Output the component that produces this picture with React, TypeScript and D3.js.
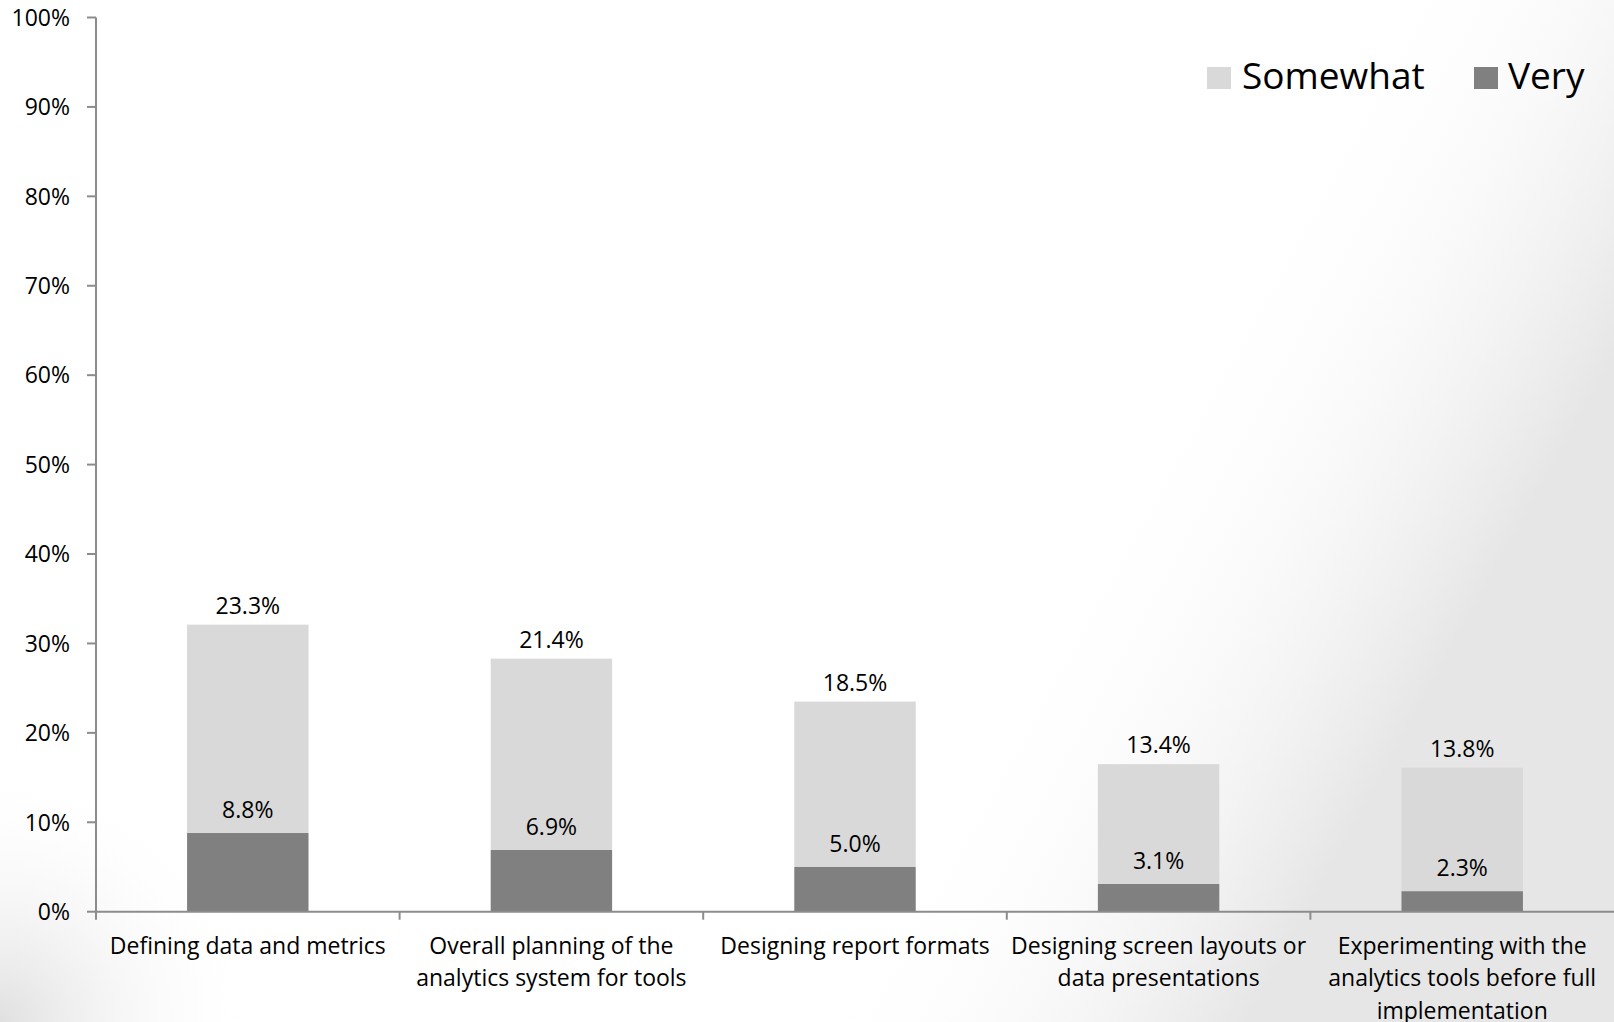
import React from "react";
import * as d3 from "d3";

const categories = [
  "Defining data and metrics",
  "Overall planning of the\nanalytics system for tools",
  "Designing report formats",
  "Designing screen layouts or\ndata presentations",
  "Experimenting with the\nanalytics tools before full\nimplementation",
];
const veryValues = [8.8, 6.9, 5.0, 3.1, 2.3];
const somewhatValues = [23.3, 21.4, 18.5, 13.4, 13.8];
const yTicks = [0, 10, 20, 30, 40, 50, 60, 70, 80, 90, 100];
const seriesNames = ["Somewhat", "Very"];

const W = 1614;
const H = 1022;
const FONT = "'Open Sans', Lato, sans-serif";
const AXIS = "#8c8c8c";
const C_SOME = "#d9d9d9";
const C_VERY = "#808080";
const FS = 23;

export default function App() {
  const x = d3.scaleBand<string>().domain(categories).range([96, 1614]).padding(0);
  const y = d3.scaleLinear().domain([0, 100]).range([911.7, 17.5]);
  const bw = x.bandwidth() * 0.4;
  const rows = categories.map((c, i) => ({
    c,
    very: veryValues[i],
    some: somewhatValues[i],
  }));
  const stack = d3.stack<any>().keys(["very", "some"])(rows as any);

  return (
    <svg
      width={W}
      height={H}
      style={{ position: "absolute", left: 0, top: 0, display: "block" }}
      fontFamily={FONT}
    >
      <defs>
        <linearGradient id="rightShade" x1="0" y1="0" x2="1" y2="0.35">
          <stop offset="0.76" stopColor="#ffffff" stopOpacity="0" />
          <stop offset="1" stopColor="#e6e6e6" stopOpacity="1" />
        </linearGradient>
        <radialGradient id="blShade" cx="0" cy="1" r="0.16" gradientUnits="objectBoundingBox"
          gradientTransform="translate(0,1) scale(1,1.58) translate(0,-1)">
          <stop offset="0" stopColor="#e0e0e0" stopOpacity="1" />
          <stop offset="1" stopColor="#ffffff" stopOpacity="0" />
        </radialGradient>
      </defs>
      <rect x={0} y={0} width={W} height={H} fill="#ffffff" />
      <rect x={0} y={0} width={W} height={H} fill="url(#rightShade)" />
      <rect x={0} y={0} width={W} height={H} fill="url(#blShade)" />

      {/* bars */}
      {stack.map((s, si) => (
        <g key={si}>
          {s.map((d: any, i: number) => (
            <rect
              key={i}
              x={(x(categories[i]) as number) + (x.bandwidth() - bw) / 2}
              y={y(d[1])}
              width={bw}
              height={y(d[0]) - y(d[1])}
              fill={si === 0 ? C_VERY : C_SOME}
            />
          ))}
        </g>
      ))}

      {/* data labels */}
      {rows.map((r, i) => {
        const cx = (x(categories[i]) as number) + x.bandwidth() / 2;
        return (
          <g key={i} fontSize={FS} textAnchor="middle" fill="#000">
            <text x={cx} y={y(r.very + r.some) - 11}>{r.some.toFixed(1)}%</text>
            <text x={cx} y={y(r.very) - 15}>{r.very.toFixed(1)}%</text>
          </g>
        );
      })}

      {/* y axis */}
      <line x1={96} x2={96} y1={y(0)} y2={y(100)} stroke={AXIS} strokeWidth={2} />
      {yTicks.map((t) => (
        <g key={t}>
          <line x1={87} x2={96} y1={y(t)} y2={y(t)} stroke={AXIS} strokeWidth={2} />
          <text x={70} y={y(t)} dy="0.36em" textAnchor="end" fontSize={FS} fill="#000">
            {t}%
          </text>
        </g>
      ))}

      {/* x axis */}
      <line x1={95} x2={W} y1={y(0)} y2={y(0)} stroke={AXIS} strokeWidth={2} />
      {categories.map((c, i) => (
        <line
          key={i}
          x1={x(c) as number}
          x2={x(c) as number}
          y1={y(0)}
          y2={y(0) + 8}
          stroke={AXIS}
          strokeWidth={2}
        />
      ))}
      {categories.map((c, i) => {
        const cx = (x(c) as number) + x.bandwidth() / 2;
        return (
          <text key={i} x={cx} y={954} textAnchor="middle" fontSize={FS} fill="#000">
            {c.split("\n").map((ln, j) => (
              <tspan key={j} x={cx} dy={j === 0 ? 0 : 32.3}>
                {ln}
              </tspan>
            ))}
          </text>
        );
      })}

      {/* legend */}
      <g fontSize={37}>
        <rect x={1207} y={67} width={24} height={22} fill={C_SOME} />
        <text x={1242} y={89}>{seriesNames[0]}</text>
        <rect x={1474} y={67} width={24} height={22} fill={C_VERY} />
        <text x={1508} y={89}>{seriesNames[1]}</text>
      </g>
    </svg>
  );
}
